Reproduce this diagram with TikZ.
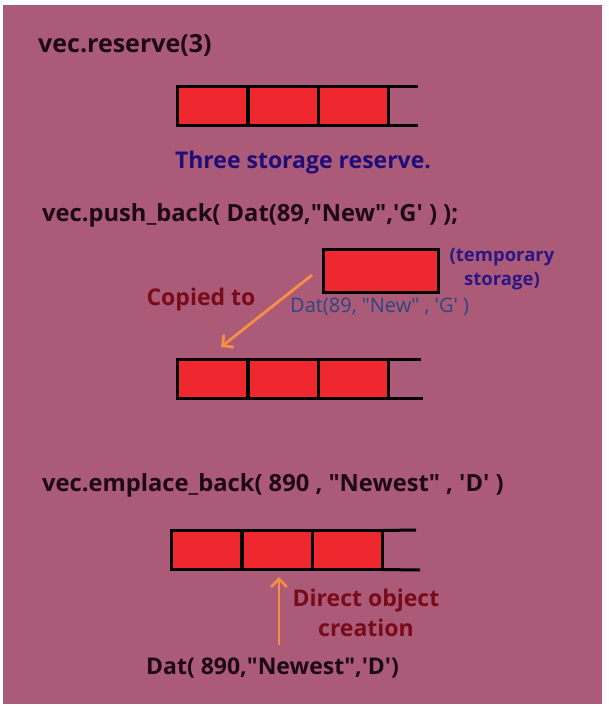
\documentclass[tikz,border=0pt]{standalone}
\usepackage{fontspec}
\setmainfont{Open Sans}
\usetikzlibrary{arrows.meta}
\definecolor{bgc}{RGB}{171,91,120}
\definecolor{cellred}{RGB}{238,40,46}
\definecolor{arrowc}{RGB}{246,142,72}
\definecolor{titlec}{RGB}{30,8,16}
\definecolor{navyc}{RGB}{32,12,120}
\definecolor{purplec}{RGB}{44,22,132}
\definecolor{steelc}{RGB}{44,70,130}
\definecolor{darkredc}{RGB}{120,10,26}
\newcommand{\dq}{\textquotedbl}
\newcommand{\sq}{\textquotesingle}
\begin{document}
\begin{tikzpicture}[x=1pt,y=-1pt,
  cell/.style={draw=black,line width=3pt,fill=cellred,minimum width=70pt,minimum height=39pt,inner sep=0pt,outer sep=0pt},
  tempcell/.style={cell,minimum width=115pt,minimum height=43pt},
  openend/.style={draw=black,line width=3pt},
  code/.style={font=\fontsize{23.7}{26}\selectfont\bfseries,text=titlec,inner sep=0pt,anchor=west},
  note/.style={font=\fontsize{23}{30}\selectfont\bfseries,inner sep=0pt,align=center},
  orangearrow/.style={draw=arrowc,line width=2.8pt,-{Straight Barb[length=8pt,width=16pt]}}
]
\useasboundingbox (0,0) rectangle (609,707);
\fill[white] (0,0) rectangle (609,707);
\fill[bgc] (3,5) rectangle (602,704);

% --- section 1
\node[code,font=\fontsize{25}{28}\selectfont\bfseries] (t1) at (38,45) {vec.reserve(3)};
\node[cell] (a1) at (212.5,105.5) {};
\node[cell] (a2) at (283,105.5) {};
\node[cell] (a3) at (353,105.5) {};
\coordinate (a1t) at (418,86);
\coordinate (a1b) at (418,125);
\draw[openend] (a3.north east) -- (a1t);
\draw[openend] (a3.south east) -- (a1b);
\node[note,text=navyc] (n1) at (303,163) {Three storage reserve.};

% --- section 2
\node[code] (t2) at (42,215) {vec.push\_back( Dat(89,\dq New\dq,\sq G\sq\ ) );};
\node[tempcell] (tmp) at (380.5,270.5) {};
\node[note,text=purplec,font=\fontsize{18.5}{24}\selectfont\bfseries] (tl) at (502,269) {(temporary\\storage)};
\node[note,text=darkredc] (cp) at (201,300) {Copied to};
\node[inner sep=0pt,text=steelc,font=\fontsize{20}{22}\selectfont,anchor=west] (dat1) at (290,307) {Dat(89, \dq New\dq\ , \sq G\sq\ )};
\node[cell] (b1) at (212.5,378.5) {};
\node[cell] (b2) at (283,378.5) {};
\node[cell] (b3) at (353,378.5) {};
\coordinate (b1t) at (421,359);
\coordinate (b1b) at (423,398);
\draw[openend] (b3.north east) -- (b1t);
\draw[openend] (b3.south east) -- (b1b);
\coordinate (ca) at (312,275);
\coordinate (cb) at (221,347);
\draw[orangearrow] (ca) -- (cb);

% --- section 3
\node[code] (t3) at (42,485) {vec.emplace\_back( 890 , \dq Newest\dq\ , \sq D\sq\ )};
\node[cell] (c1) at (206.5,550) {};
\node[cell] (c2) at (277,550) {};
\node[cell] (c3) at (347,550) {};
\coordinate (c1t) at (416,530);
\coordinate (c1b) at (420,570);
\draw[openend] (c3.north east) -- (c1t);
\draw[openend] (c3.south east) -- (c1b);
\node[note,text=darkredc] (dc) at (366,613) {Direct object\\creation};
\node[code,font=\fontsize{23}{26}\selectfont\bfseries] (dat2) at (146,668) {Dat( 890,\dq Newest\dq,\sq D\sq)};
\coordinate (da) at (279,645);
\coordinate (db) at (279,577);
\draw[orangearrow] (da) -- (db);
\end{tikzpicture}
\end{document}
